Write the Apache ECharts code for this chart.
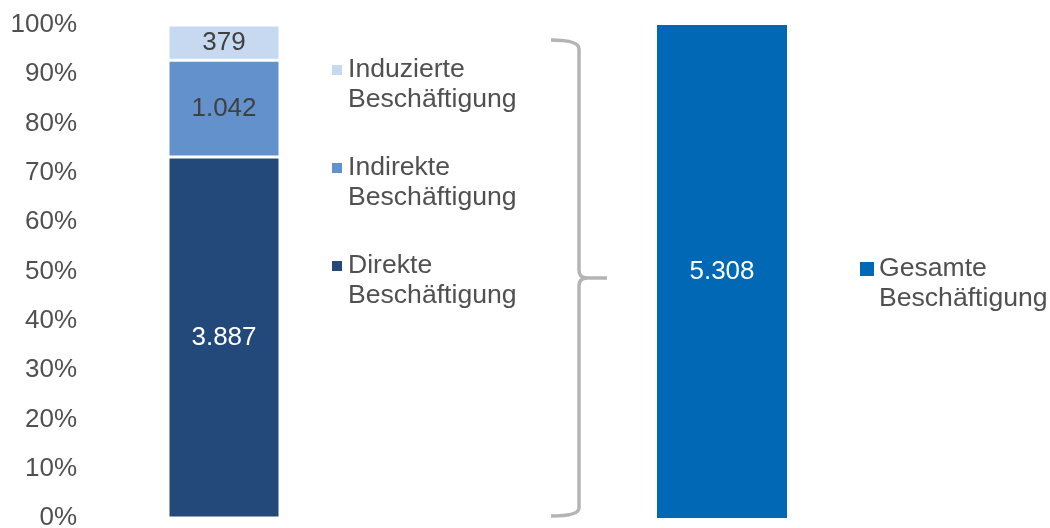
<!DOCTYPE html>
<html>
<head>
<meta charset="utf-8">
<script src="https://cdn.jsdelivr.net/npm/echarts@6/dist/echarts.min.js"></script>
<style>
  html, body { margin: 0; padding: 0; background: #fff; }
  #chart { width: 1050px; height: 528px; }
</style>
</head>
<body>
<div id="chart"></div>
<script>
// Beschäftigte (Anzahl)
var parts = ["Direkte Beschäftigung", "Indirekte Beschäftigung", "Induzierte Beschäftigung"];
var partValues = [3887, 1042, 379];
var partColors = ["#22497a", "#6391cb", "#c6d9f1"];
var partLabelColors = ["#ffffff", "#404040", "#404040"];
var totalName = "Gesamte Beschäftigung";
var totalValue = 5308;
var yTicks = [0, 10, 20, 30, 40, 50, 60, 70, 80, 90, 100];

var font = "'Liberation Sans', Arial, sans-serif";

function fmt(v) {
  return String(v).replace(/\B(?=(\d{3})+(?!\d))/g, ".");
}

var sum = partValues.reduce(function (a, b) { return a + b; }, 0);

var series = parts.map(function (name, i) {
  return {
    name: name,
    type: "bar",
    stack: "teile",
    xAxisIndex: 0,
    yAxisIndex: 0,
    barWidth: "100%",
    data: [partValues[i] / sum * 100],
    itemStyle: { color: partColors[i], borderColor: "#fff", borderWidth: 1.5 },
    label: {
      show: true,
      position: "inside",
      color: partLabelColors[i],
      fontFamily: font,
      fontSize: 26,
      formatter: function () { return fmt(partValues[i]); }
    }
  };
});
series.push({
  name: totalName,
  type: "bar",
  xAxisIndex: 1,
  yAxisIndex: 1,
  barWidth: "100%",
  data: [totalValue / totalValue * 100],
  itemStyle: { color: "#0068b4" },
  label: {
    show: true,
    position: "inside",
    color: "#fff",
    fontFamily: font,
    fontSize: 26,
    formatter: function () { return fmt(totalValue); }
  }
});

// leere erste Zeile, damit das Symbol auf Höhe der ersten Textzeile sitzt
function twoLines(n) {
  var i = n.indexOf(" ");
  return "\n" + n.slice(0, i) + "\n" + n.slice(i + 1);
}

var legendText = {
  color: "#505050",
  fontFamily: font,
  fontSize: 26.6,
  lineHeight: 30
};

var brace = "#b4b4b4";
function seg(x1, y1, x2, y2) {
  return { type: "line", shape: { x1: x1, y1: y1, x2: x2, y2: y2 }, style: { stroke: brace, lineWidth: 3.5 } };
}
function curve(x1, y1, cx, cy, x2, y2) {
  return { type: "bezierCurve", shape: { x1: x1, y1: y1, cpx1: cx, cpy1: cy, x2: x2, y2: y2 }, style: { stroke: brace, lineWidth: 3.5, fill: null } };
}

var option = {
  animation: false,
  grid: [
    { left: 168, width: 112, top: 25, bottom: 10, outerBoundsMode: "none" },
    { left: 657, width: 130, top: 25, bottom: 10, outerBoundsMode: "none" }
  ],
  xAxis: [
    { type: "category", gridIndex: 0, data: ["Teile"], show: false },
    { type: "category", gridIndex: 1, data: ["Gesamt"], show: false }
  ],
  yAxis: [
    {
      type: "value", gridIndex: 0, min: 0, max: 100, interval: 10,
      axisLine: { show: false }, axisTick: { show: false }, splitLine: { show: false },
      axisLabel: {
        margin: 91, color: "#505050", fontFamily: font, fontSize: 26,
        formatter: function (v) { return yTicks.indexOf(v) >= 0 ? v + "%" : ""; }
      }
    },
    { type: "value", gridIndex: 1, min: 0, max: 100, show: false }
  ],
  legend: [
    {
      data: parts.slice().reverse(),
      orient: "vertical",
      left: 330,
      top: 25,
      padding: 0,
      itemGap: 8,
      itemWidth: 12,
      itemHeight: 12,
      icon: "rect",
      selectedMode: false,
      formatter: twoLines,
      textStyle: legendText
    },
    {
      data: [totalName],
      orient: "vertical",
      left: 860,
      top: 224,
      padding: 0,
      itemWidth: 14,
      itemHeight: 14,
      icon: "rect",
      selectedMode: false,
      formatter: twoLines,
      textStyle: legendText
    }
  ],
  graphic: [
    curve(551, 40, 579, 40, 579, 49),
    seg(579, 49, 579, 270),
    curve(579, 270, 579, 278, 587, 278),
    seg(587, 278, 607, 278),
    curve(587, 278, 579, 278, 579, 286),
    seg(579, 286, 579, 508),
    curve(579, 508, 579, 516, 551, 516)
  ],
  series: series
};

var chart = echarts.init(document.getElementById("chart"));
chart.setOption(option);
</script>
</body>
</html>
